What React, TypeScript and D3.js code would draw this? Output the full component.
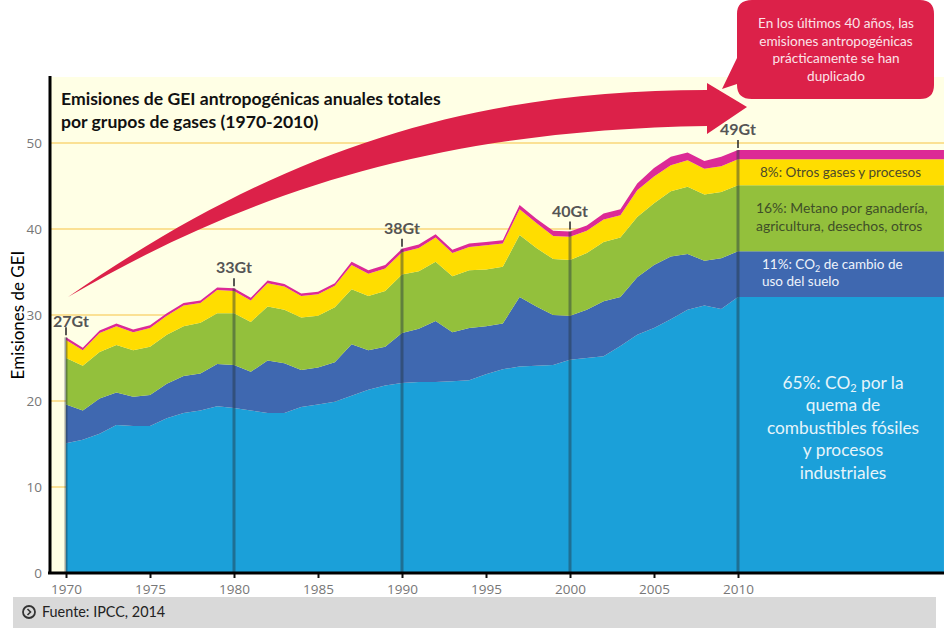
import { useEffect, useRef } from 'react';
import * as d3 from 'd3';

const years = d3.range(1970, 2011);
// the last values run on flat to the right edge, behind the labels
const bandEndYear = 2022.26;

const fossilCo2 = [15.1, 15.5, 16.2, 17.2, 17.1, 17.1, 18.0, 18.6, 18.9, 19.4, 19.2, 18.9, 18.6, 18.6, 19.3, 19.6, 19.9, 20.6, 21.3, 21.8, 22.1, 22.2, 22.2, 22.3, 22.4, 23.1, 23.7, 24.0, 24.1, 24.2, 24.8, 25.0, 25.2, 26.4, 27.7, 28.5, 29.5, 30.6, 31.1, 30.7, 32.1];
const landUseCo2 = [4.5, 3.4, 4.1, 3.8, 3.4, 3.6, 4.0, 4.3, 4.3, 4.9, 5.0, 4.5, 6.1, 5.8, 4.3, 4.3, 4.6, 6.0, 4.6, 4.5, 5.8, 6.2, 7.1, 5.7, 6.1, 5.6, 5.3, 8.1, 6.9, 5.8, 5.1, 5.6, 6.4, 5.7, 6.7, 7.3, 7.3, 6.5, 5.2, 5.9, 5.3];
const methane = [5.4, 5.2, 5.4, 5.5, 5.4, 5.6, 5.7, 5.8, 5.9, 5.9, 6.0, 5.8, 6.3, 6.2, 6.1, 6.0, 6.4, 6.4, 6.3, 6.5, 6.8, 6.7, 6.9, 6.5, 6.7, 6.6, 6.6, 7.2, 6.8, 6.5, 6.5, 6.6, 6.9, 6.9, 7.0, 7.2, 7.6, 7.8, 7.7, 7.7, 7.7];
const otherGases = [2.1, 1.8, 2.2, 2.2, 2.1, 2.2, 2.2, 2.4, 2.3, 2.7, 2.6, 2.5, 2.7, 2.7, 2.5, 2.5, 2.5, 2.8, 2.6, 2.6, 2.6, 2.7, 2.8, 2.7, 2.7, 2.8, 2.7, 3.0, 2.9, 2.7, 2.7, 2.6, 2.6, 2.6, 3.1, 3.1, 3.0, 3.1, 3.0, 3.0, 3.0];
const fluorinated = [0.3, 0.3, 0.3, 0.3, 0.3, 0.3, 0.3, 0.3, 0.3, 0.3, 0.3, 0.3, 0.3, 0.3, 0.3, 0.3, 0.3, 0.4, 0.4, 0.4, 0.4, 0.4, 0.4, 0.4, 0.4, 0.4, 0.4, 0.5, 0.5, 0.6, 0.6, 0.6, 0.7, 0.7, 0.8, 1.0, 1.0, 0.9, 0.9, 1.1, 1.1];

const seriesValues = [fossilCo2, landUseCo2, methane, otherGases, fluorinated];
const seriesColors = ['#1ba0d9', '#3f68b0', '#93c03c', '#ffdd00', '#dc2a96'];

const yTicks = [0, 10, 20, 30, 40, 50];
const xTicks = d3.range(1970, 2011, 5);
const markerYears = [1970, 1980, 1990, 2000, 2010];
const markerLabels = ['27Gt', '33Gt', '38Gt', '40Gt', '49Gt'];

const titleLines = ['Emisiones de GEI antropogénicas anuales totales', 'por grupos de gases (1970-2010)'];
const calloutLines = ['En los últimos 40 años, las', 'emisiones antropogénicas', 'prácticamente se han', 'duplicado'];
const fossilLines = ['por la', 'quema de', 'combustibles fósiles', 'y procesos', 'industriales'];

const font = 'Lato, Carlito, sans-serif';
const red = '#dc2149';

export default function App() {
  const svgRef = useRef<SVGSVGElement>(null);

  useEffect(() => {
    if (!svgRef.current) return;
    const svg = d3.select(svgRef.current);
    svg.selectAll('*').remove();

    const x = d3.scaleLinear().domain([1970, 1980]).range([66, 234]);
    const y = d3.scaleLinear().domain([0, 50]).range([573, 143]);

    // Background panel
    svg.append('rect').attr('x', 50).attr('y', 77).attr('width', 894).attr('height', 496).attr('fill', '#ffffe5');

    // Gridlines
    svg.append('g')
      .selectAll('line')
      .data(yTicks.slice(1))
      .enter().append('line')
      .attr('x1', 50)
      .attr('x2', 944)
      .attr('y1', d => y(d))
      .attr('y2', d => y(d))
      .attr('stroke', '#fad779')
      .attr('stroke-width', 1.5);

    // Stacked areas
    const rows = years.map((year, i) => {
      const row: Record<string, number> = { year };
      seriesValues.forEach((s, k) => { row[`s${k}`] = s[i]; });
      return row;
    });
    rows.push({ ...rows[rows.length - 1], year: bandEndYear });

    const stack = d3.stack<Record<string, number>>().keys(seriesValues.map((_, k) => `s${k}`));
    const stacked = stack(rows);
    const area = d3.area<any>()
      .x(d => x(d.data.year))
      .y0(d => y(d[0]))
      .y1(d => y(d[1]));

    svg.append('g')
      .selectAll('path')
      .data(stacked)
      .enter().append('path')
      .attr('d', area)
      .attr('fill', (_, i) => seriesColors[i]);

    // Vertical markers at each decade
    const totalAt = (year: number) => {
      const i = years.indexOf(year);
      return d3.sum(seriesValues, s => s[i]);
    };
    markerYears.forEach((year, i) => {
      const px = x(year);
      const top = y(totalAt(year));
      svg.append('line')
        .attr('x1', px).attr('x2', px).attr('y1', top).attr('y2', y(0))
        .attr('stroke', '#24323f').attr('stroke-opacity', 0.45).attr('stroke-width', 3);
      svg.append('line')
        .attr('x1', px).attr('x2', px).attr('y1', top - 10).attr('y2', top - 2)
        .attr('stroke', '#222').attr('stroke-width', 1.5);
      svg.append('text')
        .attr('x', i === 0 ? px + 5 : px)
        .attr('y', i === 0 ? top - 10 : top - 15)
        .attr('text-anchor', 'middle')
        .attr('font-family', font)
        .attr('font-size', 16)
        .attr('font-weight', 700)
        .attr('fill', '#555')
        .text(markerLabels[i]);
    });

    // Axes
    const xAxis = d3.axisBottom(x).tickValues(xTicks).tickFormat(d3.format('d')).tickSize(5).tickPadding(6);
    const gx = svg.append('g').attr('transform', `translate(0,${y(0)})`).call(xAxis);
    gx.select('.domain').remove();
    gx.selectAll('line').attr('stroke', '#111').attr('stroke-width', 2);
    gx.selectAll('text').attr('font-family', 'Open Sans, sans-serif').attr('font-size', 13.5).attr('fill', '#777');

    const yAxis = d3.axisLeft(y).tickValues(yTicks).tickSize(0).tickPadding(8);
    const gy = svg.append('g').attr('transform', 'translate(50,0)').call(yAxis);
    gy.select('.domain').remove();
    gy.selectAll('text').attr('font-family', 'Open Sans, sans-serif').attr('font-size', 13.5).attr('fill', '#777');

    svg.append('line').attr('x1', 50).attr('x2', 50).attr('y1', 76).attr('y2', 574).attr('stroke', '#000').attr('stroke-width', 3);
    svg.append('line').attr('x1', 48).attr('x2', 944).attr('y1', 573).attr('y2', 573).attr('stroke', '#000').attr('stroke-width', 3);

    svg.append('text')
      .attr('transform', 'translate(24,315) rotate(-90)')
      .attr('text-anchor', 'middle')
      .attr('font-family', font)
      .attr('font-size', 17)
      .attr('fill', '#000')
      .text('Emisiones de GEI');

    // Title
    svg.append('g')
      .selectAll('text')
      .data(titleLines)
      .enter().append('text')
      .attr('x', 61)
      .attr('y', (_, i) => 105 + i * 22.5)
      .attr('font-family', font)
      .attr('font-size', 17.6)
      .attr('font-weight', 700)
      .attr('fill', '#111')
      .text(d => d);

    // Big curved arrow
    const arrow = d3.path();
    arrow.moveTo(68, 297);
    arrow.bezierCurveTo(280, 150, 470, 90, 707, 90);
    arrow.lineTo(707, 83);
    arrow.lineTo(747, 107);
    arrow.lineTo(707, 134);
    arrow.lineTo(707, 126);
    arrow.bezierCurveTo(450, 130, 260, 185, 68, 297);
    arrow.closePath();
    svg.append('path').attr('d', arrow.toString()).attr('fill', red);

    // Callout
    const callout = d3.path();
    callout.moveTo(752, 0);
    callout.lineTo(920, 0);
    callout.quadraticCurveTo(934, 0, 934, 14);
    callout.lineTo(934, 85);
    callout.quadraticCurveTo(934, 99, 920, 99);
    callout.lineTo(752, 99);
    callout.quadraticCurveTo(737, 99, 737, 85);
    callout.lineTo(737, 84);
    callout.lineTo(722, 89);
    callout.lineTo(737, 58);
    callout.lineTo(737, 14);
    callout.quadraticCurveTo(737, 0, 752, 0);
    callout.closePath();
    svg.append('path').attr('d', callout.toString()).attr('fill', red);
    svg.append('g')
      .selectAll('text')
      .data(calloutLines)
      .enter().append('text')
      .attr('x', 836)
      .attr('y', (_, i) => 28 + i * 17.7)
      .attr('text-anchor', 'middle')
      .attr('font-family', font)
      .attr('font-size', 13.6)
      .attr('fill', '#fbe3e8')
      .text(d => d);

    // Band labels
    const label = (tx: number, ty: number, size: number, fill: string, anchor = 'start') =>
      svg.append('text')
        .attr('x', tx)
        .attr('y', ty)
        .attr('text-anchor', anchor)
        .attr('font-family', font)
        .attr('font-size', size)
        .attr('fill', fill);

    label(760, 177, 13.5, '#4d4a2a').text('8%: Otros gases y procesos');
    label(756, 213, 13.9, '#3f4f28').text('16%: Metano por ganadería,');
    label(756, 231, 13.9, '#3f4f28').text('agricultura, desechos, otros');

    const co2Small = label(762, 269, 13.5, '#eef3fb');
    co2Small.append('tspan').text('11%: CO');
    co2Small.append('tspan').attr('font-size', 9).attr('dy', 3).text('2');
    co2Small.append('tspan').attr('dy', -3).text(' de cambio de');
    label(762, 286, 13.5, '#eef3fb').text('uso del suelo');

    const co2Big = label(843, 389, 17.3, '#e6f4fa', 'middle');
    co2Big.append('tspan').text('65%: CO');
    co2Big.append('tspan').attr('font-size', 11).attr('dy', 3).text('2');
    co2Big.append('tspan').attr('dy', -3).text(` ${fossilLines[0]}`);
    fossilLines.slice(1).forEach((line, i) => {
      label(843, 411 + i * 22.5, 17.3, '#e6f4fa', 'middle').text(line);
    });

    // Source bar
    svg.append('rect').attr('x', 13).attr('y', 597).attr('width', 923).attr('height', 31).attr('fill', '#d9d9d9');
    svg.append('circle').attr('cx', 29).attr('cy', 612).attr('r', 6).attr('fill', 'none').attr('stroke', '#333').attr('stroke-width', 1.8);
    svg.append('path').attr('d', 'M27.5 609 L30.5 612 L27.5 615').attr('fill', 'none').attr('stroke', '#333').attr('stroke-width', 1.6);
    label(42, 617, 14.4, '#222').text('Fuente: IPCC, 2014');
  }, []);

  return (
    <svg
      ref={svgRef}
      width={946}
      height={631}
      style={{ position: 'absolute', left: 0, top: 0, display: 'block', background: '#fff' }}
    />
  );
}
